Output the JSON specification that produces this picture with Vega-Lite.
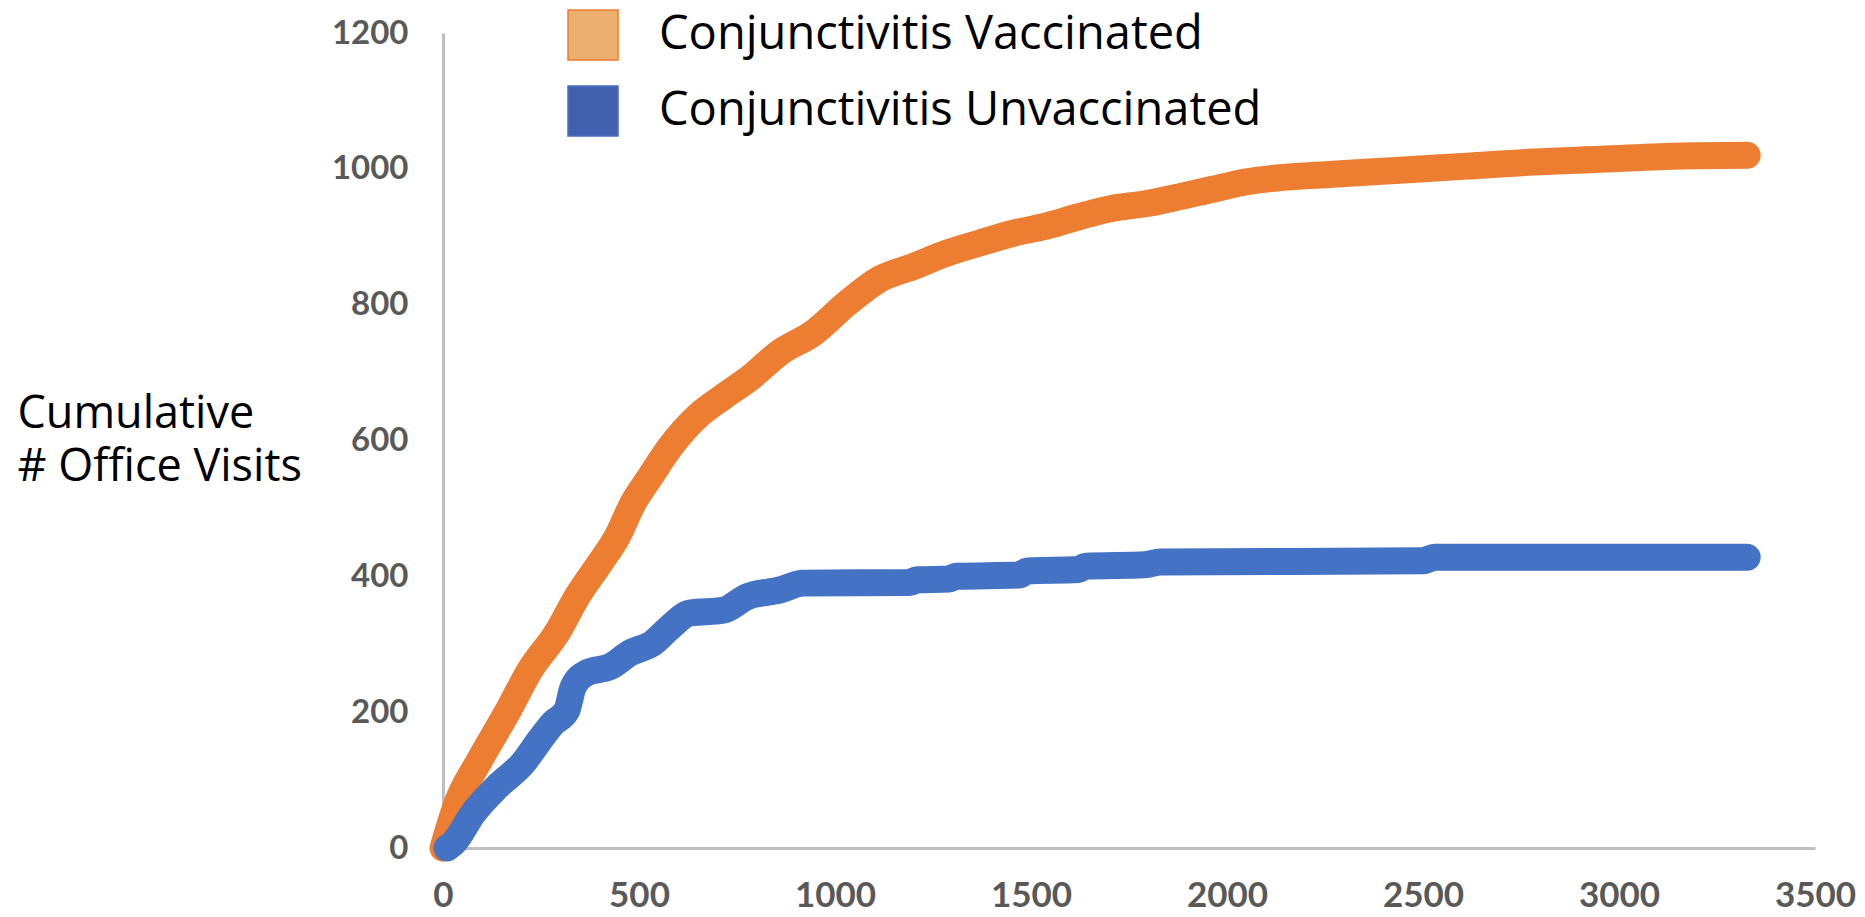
{
  "$schema": "https://vega.github.io/schema/vega-lite/v6.json",
  "width": 1372,
  "height": 815,
  "autosize": {"type": "none"},
  "padding": {"left": 443, "top": 33, "right": 50, "bottom": 69},
  "background": "white",
  "config": {"view": {"stroke": null}},
  "data": {
    "values": [
      {"series": "Conjunctivitis Vaccinated", "day": 0, "visits": 0},
      {"series": "Conjunctivitis Vaccinated", "day": 36, "visits": 66},
      {"series": "Conjunctivitis Vaccinated", "day": 94, "visits": 130},
      {"series": "Conjunctivitis Vaccinated", "day": 163, "visits": 199},
      {"series": "Conjunctivitis Vaccinated", "day": 222, "visits": 262},
      {"series": "Conjunctivitis Vaccinated", "day": 291, "visits": 317},
      {"series": "Conjunctivitis Vaccinated", "day": 342, "visits": 370},
      {"series": "Conjunctivitis Vaccinated", "day": 401, "visits": 420},
      {"series": "Conjunctivitis Vaccinated", "day": 444, "visits": 458},
      {"series": "Conjunctivitis Vaccinated", "day": 485, "visits": 508},
      {"series": "Conjunctivitis Vaccinated", "day": 528, "visits": 546},
      {"series": "Conjunctivitis Vaccinated", "day": 579, "visits": 590},
      {"series": "Conjunctivitis Vaccinated", "day": 648, "visits": 635},
      {"series": "Conjunctivitis Vaccinated", "day": 714, "visits": 664},
      {"series": "Conjunctivitis Vaccinated", "day": 783, "visits": 692},
      {"series": "Conjunctivitis Vaccinated", "day": 860, "visits": 730},
      {"series": "Conjunctivitis Vaccinated", "day": 944, "visits": 758},
      {"series": "Conjunctivitis Vaccinated", "day": 1031, "visits": 802},
      {"series": "Conjunctivitis Vaccinated", "day": 1115, "visits": 838},
      {"series": "Conjunctivitis Vaccinated", "day": 1199, "visits": 856},
      {"series": "Conjunctivitis Vaccinated", "day": 1286, "visits": 876},
      {"series": "Conjunctivitis Vaccinated", "day": 1370, "visits": 891},
      {"series": "Conjunctivitis Vaccinated", "day": 1454, "visits": 905},
      {"series": "Conjunctivitis Vaccinated", "day": 1541, "visits": 916},
      {"series": "Conjunctivitis Vaccinated", "day": 1625, "visits": 930},
      {"series": "Conjunctivitis Vaccinated", "day": 1709, "visits": 942},
      {"series": "Conjunctivitis Vaccinated", "day": 1796, "visits": 949},
      {"series": "Conjunctivitis Vaccinated", "day": 1880, "visits": 959},
      {"series": "Conjunctivitis Vaccinated", "day": 1964, "visits": 970},
      {"series": "Conjunctivitis Vaccinated", "day": 2051, "visits": 981},
      {"series": "Conjunctivitis Vaccinated", "day": 2135, "visits": 987},
      {"series": "Conjunctivitis Vaccinated", "day": 2270, "visits": 992},
      {"series": "Conjunctivitis Vaccinated", "day": 2441, "visits": 998},
      {"series": "Conjunctivitis Vaccinated", "day": 2612, "visits": 1004},
      {"series": "Conjunctivitis Vaccinated", "day": 2781, "visits": 1010},
      {"series": "Conjunctivitis Vaccinated", "day": 2952, "visits": 1014},
      {"series": "Conjunctivitis Vaccinated", "day": 3163, "visits": 1019},
      {"series": "Conjunctivitis Vaccinated", "day": 3327, "visits": 1020},
      {"series": "Conjunctivitis Unvaccinated", "day": 10, "visits": 0},
      {"series": "Conjunctivitis Unvaccinated", "day": 26, "visits": 7},
      {"series": "Conjunctivitis Unvaccinated", "day": 77, "visits": 51},
      {"series": "Conjunctivitis Unvaccinated", "day": 138, "visits": 90},
      {"series": "Conjunctivitis Unvaccinated", "day": 204, "visits": 125},
      {"series": "Conjunctivitis Unvaccinated", "day": 247, "visits": 159},
      {"series": "Conjunctivitis Unvaccinated", "day": 281, "visits": 184},
      {"series": "Conjunctivitis Unvaccinated", "day": 316, "visits": 203},
      {"series": "Conjunctivitis Unvaccinated", "day": 332, "visits": 237},
      {"series": "Conjunctivitis Unvaccinated", "day": 367, "visits": 258},
      {"series": "Conjunctivitis Unvaccinated", "day": 426, "visits": 267},
      {"series": "Conjunctivitis Unvaccinated", "day": 477, "visits": 287},
      {"series": "Conjunctivitis Unvaccinated", "day": 536, "visits": 302},
      {"series": "Conjunctivitis Unvaccinated", "day": 579, "visits": 325},
      {"series": "Conjunctivitis Unvaccinated", "day": 630, "visits": 346},
      {"series": "Conjunctivitis Unvaccinated", "day": 714, "visits": 350},
      {"series": "Conjunctivitis Unvaccinated", "day": 776, "visits": 370},
      {"series": "Conjunctivitis Unvaccinated", "day": 860, "visits": 380},
      {"series": "Conjunctivitis Unvaccinated", "day": 918, "visits": 390},
      {"series": "Conjunctivitis Unvaccinated", "day": 1190, "visits": 391},
      {"series": "Conjunctivitis Unvaccinated", "day": 1210, "visits": 395},
      {"series": "Conjunctivitis Unvaccinated", "day": 1290, "visits": 396},
      {"series": "Conjunctivitis Unvaccinated", "day": 1310, "visits": 400},
      {"series": "Conjunctivitis Unvaccinated", "day": 1470, "visits": 402},
      {"series": "Conjunctivitis Unvaccinated", "day": 1490, "visits": 408},
      {"series": "Conjunctivitis Unvaccinated", "day": 1620, "visits": 410},
      {"series": "Conjunctivitis Unvaccinated", "day": 1640, "visits": 415},
      {"series": "Conjunctivitis Unvaccinated", "day": 1790, "visits": 417},
      {"series": "Conjunctivitis Unvaccinated", "day": 1830, "visits": 421},
      {"series": "Conjunctivitis Unvaccinated", "day": 2500, "visits": 423},
      {"series": "Conjunctivitis Unvaccinated", "day": 2530, "visits": 428},
      {"series": "Conjunctivitis Unvaccinated", "day": 3327, "visits": 428}
    ]
  },
  "mark": {"type": "line", "strokeWidth": 27, "strokeCap": "round", "strokeJoin": "round", "interpolate": "monotone"},
  "encoding": {
    "x": {
      "field": "day", "type": "quantitative",
      "scale": {"domain": [0, 3500], "nice": false, "zero": true},
      "axis": {
        "values": [0, 500, 1000, 1500, 2000, 2500, 3000, 3500], "format": "d",
        "title": null, "grid": false, "ticks": false,
        "domainColor": "#BFBFBF", "domainWidth": 3,
        "labelFont": "Lato", "labelFontWeight": "bold", "labelFontSize": 35,
        "labelColor": "#595959", "labelPadding": 30, "labelFlush": false, "labelOverlap": false
      }
    },
    "y": {
      "field": "visits", "type": "quantitative",
      "scale": {"domain": [0, 1200], "nice": false},
      "axis": {
        "values": [0, 200, 400, 600, 800, 1000, 1200], "format": "d",
        "grid": false, "ticks": false,
        "domainColor": "#BFBFBF", "domainWidth": 3,
        "labelFont": "Lato", "labelFontWeight": "bold", "labelFontSize": 33,
        "labelColor": "#595959", "labelPadding": 35, "labelFlush": false, "labelOverlap": false,
        "title": ["Cumulative", "# Office Visits"],
        "titleAngle": 0, "titleAlign": "left", "titleBaseline": "alphabetic",
        "titleX": -426, "titleY": 394, "titleLineHeight": 53,
        "titleFont": "Open Sans", "titleFontSize": 45, "titleFontWeight": "normal", "titleColor": "#000000"
      }
    },
    "color": {
      "field": "series", "type": "nominal",
      "scale": {"domain": ["Conjunctivitis Vaccinated", "Conjunctivitis Unvaccinated"], "range": ["#ED7D31", "#4472C4"]},
      "legend": {
        "title": null, "orient": "none", "legendX": 124, "legendY": -24,
        "padding": 0, "symbolType": "square", "symbolSize": 2500,
        "symbolStrokeColor": "#2F4B8F", "symbolStrokeWidth": 1.5,
        "rowPadding": 20, "labelOffset": 40, "labelLimit": 0,
        "labelFont": "Open Sans", "labelFontSize": 47, "labelColor": "#000000",
        "encode": {
          "symbols": {
            "update": {
              "fill": {"signal": "datum.value === 'Conjunctivitis Vaccinated' ? '#EDAF6F' : '#4360AF'"},
              "stroke": {"value": "#2F4B8F"},
              "strokeWidth": {"value": 1.5},
              "opacity": {"value": 1},
              "fillOpacity": {"value": 1}
            }
          }
        }
      }
    }
  }
}
